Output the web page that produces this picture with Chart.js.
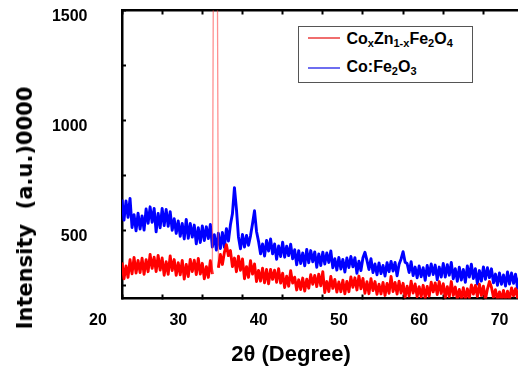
<!DOCTYPE html>
<html>
<head>
<meta charset="utf-8">
<script src="https://cdn.jsdelivr.net/npm/chart.js@4.4.1/dist/chart.umd.min.js"></script>
<style>
html,body{margin:0;padding:0;background:#fff;overflow:hidden;}
#wrap{position:relative;width:540px;height:367px;}
#c{position:absolute;left:0;top:0;}
.t{position:absolute;white-space:nowrap;color:#000;line-height:1;}
#xt{left:291px;top:354px;transform:translate(-50%,-50%);font:bold 22px "Liberation Sans",Arial,sans-serif;}
#yt{left:24.5px;top:207.5px;transform:translate(-50%,-50%) rotate(-90deg);font:bold 21px "DejaVu Sans",sans-serif;}
#lg{position:absolute;left:298px;top:26px;width:175px;height:57px;box-sizing:border-box;border:1.5px solid #555;background:#fff;}
.ln{position:absolute;height:2px;width:32px;left:8.5px;}
.lt{position:absolute;left:47.5px;font:bold 16px "Liberation Sans",Arial,sans-serif;line-height:16px;white-space:nowrap;color:#000;}
.lt sub{font-size:11px;vertical-align:-3px;line-height:0;}
</style>
</head>
<body>
<div id="wrap">
<canvas id="c" width="540" height="367"></canvas>
<div class="t" id="xt">2θ (Degree)</div>
<div class="t" id="yt">Intensity&nbsp;&nbsp;(a.u.)0000</div>
<div id="lg">
  <div class="ln" style="top:9.5px;background:rgb(240,110,110)"></div>
  <div class="lt" style="top:4px">Co<sub>x</sub>Zn<sub>1-x</sub>Fe<sub>2</sub>O<sub>4</sub></div>
  <div class="ln" style="top:39.5px;background:rgb(110,110,240)"></div>
  <div class="lt" style="top:32px">Co:Fe<sub>2</sub>O<sub>3</sub></div>
</div>
</div>
<script>
// 2θ positions (degrees, as read against the printed tick labels)
const twoTheta = [23,23.25,23.5,23.75,24,24.25,24.5,24.75,25,25.25,25.5,25.75,26,26.25,26.5,26.75,27,27.25,27.5,27.75,28,28.25,28.5,28.75,29,29.25,29.5,29.75,30,30.25,30.5,30.75,31,31.25,31.5,31.75,32,32.25,32.5,32.75,33,33.25,33.5,33.75,34,34.25,34.5,34.75,35,35.25,35.5,35.75,36,36.25,36.5,36.75,37,37.25,37.5,37.75,38,38.25,38.5,38.75,39,39.25,39.5,39.75,40,40.25,40.5,40.75,41,41.25,41.5,41.75,42,42.25,42.5,42.75,43,43.25,43.5,43.75,44,44.25,44.5,44.75,45,45.25,45.5,45.75,46,46.25,46.5,46.75,47,47.25,47.5,47.75,48,48.25,48.5,48.75,49,49.25,49.5,49.75,50,50.25,50.5,50.75,51,51.25,51.5,51.75,52,52.25,52.5,52.75,53,53.25,53.5,53.75,54,54.25,54.5,54.75,55,55.25,55.5,55.75,56,56.25,56.5,56.75,57,57.25,57.5,57.75,58,58.25,58.5,58.75,59,59.25,59.5,59.75,60,60.25,60.5,60.75,61,61.25,61.5,61.75,62,62.25,62.5,62.75,63,63.25,63.5,63.75,64,64.25,64.5,64.75,65,65.25,65.5,65.75,66,66.25,66.5,66.75,67,67.25,67.5,67.75,68,68.25,68.5,68.75,69,69.25,69.5,69.75,70,70.25,70.5,70.75,71,71.25,71.5,71.75,72,72.25,72.5,72.75,73,73.25,73.5,73.75];

// CoxZn1-xFe2O4 intensity
const ferriteIntensity = [
354,280,338,286,366,302,377,306,363,308,
373,300,367,312,390,327,378,313,386,319,
374,296,357,300,384,317,367,296,353,298,
363,278,345,290,368,313,364,299,372,301,
350,280,335,286,362,301,3000,3000,330,390,
345,400,435,385,408,335,374,312,382,318,
370,280,335,286,362,301,347,267,318,269,
328,261,322,257,322,277,319,264,326,260,
305,240,291,246,316,260,287,229,275,231,
283,224,278,237,298,255,295,244,301,248,
312,217,267,222,290,236,277,219,265,221,
273,211,268,221,288,241,284,229,292,234,
281,214,266,212,280,226,267,209,255,211,
263,204,258,214,290,222,263,210,269,215,
259,196,246,201,269,215,256,198,244,198,
250,191,245,201,264,220,261,208,267,213,
257,194,244,199,267,204,242,188,231,190,
239,183,234,193,252,210,249,199,255,204,
246,186,233,267,241,196,230,182,220,183,
227,178,223,186,238,202,235,192,241,196,
232,181,221,185];

// Co:Fe2O3 intensity
const hematiteIntensity = [
640,547,634,559,645,513,571,498,578,506,
566,501,597,532,607,537,600,493,577,512,
600,522,595,518,585,500,553,486,543,473,
531,461,550,464,531,469,524,439,512,445,
520,454,516,463,527,424,480,410,487,417,
490,423,508,451,525,575,694,595,470,416,
481,424,477,432,475,530,589,495,450,393,
438,383,454,406,461,393,438,368,429,381,
446,378,428,385,437,371,412,343,407,349,
397,339,413,353,408,357,402,332,393,340,
401,347,397,354,406,330,371,319,377,324,
368,310,374,331,381,334,376,305,360,317,
375,400,363,322,371,308,347,298,352,303,
340,292,353,312,359,315,354,293,346,370,
403,355,349,308,357,294,333,284,338,289,
330,273,340,295,347,299,342,275,333,288,
349,288,344,296,354,280,326,268,332,274,
322,264,338,288,346,281,326,256,317,269,
334,277,330,285,325,261,301,250,306,255,
297,247,311,256,306,259,301,236,292,249,
308,256,305,263];

const seriesNames = ['CoxZn1-xFe2O4', 'Co:Fe2O3'];

// Axis ticks: tick marks every 5°, printed labels every 10°
const xTickMarks = [23,28,33,38,43,48,53,58,63,68,73];
const xTickLabels = ['20','30','40','50','60','70'];
const yTickMarks = [250,500,750,1000,1250,1500];
const yTickLabels = ['500','1000','1500'];

const tickFont = {family:'"Liberation Sans", Arial, sans-serif', size:16, weight:'bold'};

const toPoints = arr => twoTheta.map((x, i) => ({x: x, y: arr[i]}));
const offTop = ctx => ctx.p0.parsed.y > ctx.chart.scales.y.max || ctx.p1.parsed.y > ctx.chart.scales.y.max;

new Chart(document.getElementById('c'), {
  type: 'line',
  data: {
    datasets: [
      {label: seriesNames[0], data: toPoints(ferriteIntensity), borderColor: '#ff0000', borderWidth: 2.9, borderJoinStyle: 'round', pointRadius: 0, tension: 0, fill: false,
       segment: {borderColor: ctx => offTop(ctx) ? 'rgba(255,70,70,0.6)' : undefined, borderWidth: ctx => offTop(ctx) ? 1.3 : undefined}},
      {label: seriesNames[1], data: toPoints(hematiteIntensity), borderColor: '#0000ff', borderWidth: 2.9, borderJoinStyle: 'round', pointRadius: 0, tension: 0, fill: false}
    ]
  },
  options: {
    responsive: false,
    animation: false,
    events: [],
    layout: {padding: {left: 0, right: 10, top: 0, bottom: 0}},
    plugins: {legend: {display: false}, tooltip: {enabled: false}},
    scales: {
      x: {
        type: 'linear', position: 'bottom', min: 23, max: 73.8, z: 1,
        afterBuildTicks: s => { s.ticks = xTickMarks.map(v => ({value: v})); },
        afterFit: s => { s.height = 68.5; s.paddingLeft = 0; s.paddingRight = 0; },
        border: {display: true, color: '#000', width: 2.5},
        grid: {drawOnChartArea: false, drawTicks: true, tickLength: -4, tickColor: '#000', tickWidth: 2},
        ticks: {
          autoSkip: false, maxRotation: 0, padding: 16, labelOffset: -24, color: '#000', font: tickFont,
          callback: v => { const s = String(Math.round(v - 3)); return (xTickLabels.includes(s) && (v - 3) % 10 === 0) ? s : ''; }
        },
        title: {display: false}
      },
      xTop: {
        type: 'linear', position: 'top', min: 23, max: 73.8,
        afterBuildTicks: s => { s.ticks = xTickMarks.map(v => ({value: v})); },
        afterFit: s => { s.height = 10.5; s.paddingLeft = 0; s.paddingRight = 0; },
        border: {display: true, color: '#000', width: 2.5},
        grid: {drawOnChartArea: false, drawTicks: true, tickLength: -4, tickColor: '#000', tickWidth: 2},
        ticks: {display: false}
      },
      y: {
        type: 'linear', position: 'left', min: 190, max: 1500, z: 1,
        afterBuildTicks: s => { s.ticks = yTickMarks.map(v => ({value: v})); },
        afterFit: s => { s.width = 122; s.paddingTop = 0; s.paddingBottom = 0; },
        border: {display: true, color: '#000', width: 2.5},
        grid: {drawOnChartArea: false, drawTicks: true, tickLength: -4, tickColor: '#000', tickWidth: 2},
        ticks: {
          autoSkip: false, padding: 38.5, labelOffset: 6.5, color: '#000', font: tickFont,
          callback: v => yTickLabels.includes(String(v)) ? String(v) : ''
        },
        title: {display: false}
      }
    }
  }
});
</script>
</body>
</html>
